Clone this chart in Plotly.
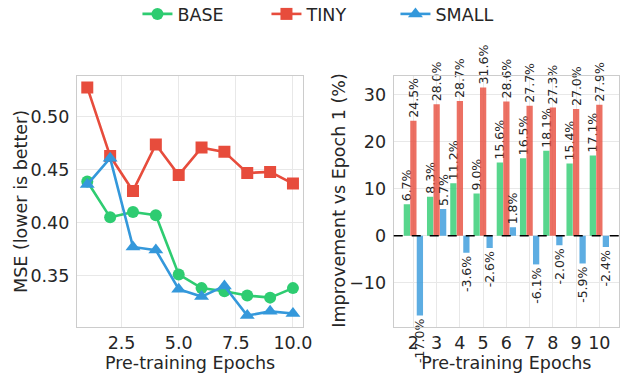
import plotly.graph_objects as go

# Pre-training epochs and validation MSE per model size
epochs = [1, 2, 3, 4, 5, 6, 7, 8, 9, 10]
mse_base = [0.439, 0.405, 0.410, 0.407, 0.351, 0.338, 0.335, 0.331, 0.329, 0.338]
mse_tiny = [0.528, 0.463, 0.430, 0.474, 0.445, 0.471, 0.467, 0.447, 0.448, 0.437]
mse_small = [0.436, 0.461, 0.377, 0.374, 0.337, 0.330, 0.340, 0.312, 0.316, 0.314]

# Relative improvement (%) over epoch 1
bar_epochs = [2, 3, 4, 5, 6, 7, 8, 9, 10]
imp_base = [6.7, 8.3, 11.2, 9.0, 15.6, 16.5, 18.1, 15.4, 17.1]
imp_tiny = [24.5, 28.0, 28.7, 31.6, 28.6, 27.7, 27.3, 27.0, 27.9]
imp_small = [-17.0, 5.7, -3.6, -2.6, 1.8, -6.1, -2.0, -5.9, -2.4]

names = ["BASE", "TINY", "SMALL"]
colors = ["#2ecc71", "#e74c3c", "#3498db"]
symbols = ["circle", "square", "triangle-up"]
text_color = "#262626"
font_family = "DejaVu Sans"
fs = 17.5

W, H = 628, 379
ML, MR, MT, MB = 77, 0, 76, 52
pw = W - ML - MR
ph = H - MT - MB

fig = go.Figure()

for name, vals, col, sym in zip(names, [mse_base, mse_tiny, mse_small], colors, symbols):
    fig.add_trace(go.Scatter(
        x=epochs, y=vals, name=name, mode="lines+markers",
        line=dict(color=col, width=2.6),
        marker=dict(color=col, symbol=sym, size=12 if sym != "triangle-up" else 13),
        xaxis="x", yaxis="y",
    ))

bar_width = 0.27
offsets = [-0.28, 0.0, 0.28]
for name, vals, col, off in zip(names, [imp_base, imp_tiny, imp_small], colors, offsets):
    fig.add_trace(go.Bar(
        x=[e + off for e in bar_epochs], y=vals, name=name, showlegend=False,
        width=bar_width, marker=dict(color=col, opacity=0.8, line=dict(width=0)),
        text=[f"{v:.1f}%" for v in vals], textposition="outside", textangle=-90,
        constraintext="none", cliponaxis=False,
        textfont=dict(size=12.5, color=text_color, family=font_family),
        xaxis="x2", yaxis="y2",
    ))

fig.add_shape(type="line", xref="x2 domain", yref="y2", x0=0, x1=1, y0=0, y1=0,
              line=dict(color="black", width=1.5, dash="dash"))

axis_common = dict(
    showline=True, mirror=True, linecolor="#cccccc", linewidth=1.3,
    showgrid=True, gridcolor="#e8e8e8", gridwidth=1, zeroline=False,
    ticks="outside", tickcolor="rgba(0,0,0,0)",
    tickfont=dict(size=fs, color=text_color, family=font_family),
)

# y-axis titles placed as rotated labels beside each panel
fig.add_annotation(text="MSE (lower is better)", xref="paper", yref="paper",
                   x=(20 - ML) / pw, y=(H - MB - 201) / ph, showarrow=False,
                   textangle=-90, font=dict(size=fs, color=text_color),
                   xanchor="center", yanchor="middle")
fig.add_annotation(text="Improvement vs Epoch 1 (%)", xref="paper", yref="paper",
                   x=(343 - ML) / pw, y=(H - MB - 201) / ph, showarrow=False,
                   textangle=-90, font=dict(size=fs, color=text_color),
                   xanchor="center", yanchor="middle")

fig.update_layout(
    width=W, height=H,
    margin=dict(l=ML, r=MR, t=MT, b=MB),
    paper_bgcolor="white", plot_bgcolor="white",
    font=dict(family=font_family, color=text_color, size=fs),
    barmode="overlay",
    xaxis=dict(domain=[0, 230 / pw], range=[0.55, 10.45],
               tickvals=[2.5, 5.0, 7.5, 10.0], ticktext=["2.5", "5.0", "7.5", "10.0"],
               ticklen=0,
               title=dict(text="Pre-training Epochs", font=dict(size=fs), standoff=0),
               anchor="y", **axis_common),
    yaxis=dict(range=[0.3012, 0.5388],
               tickvals=[0.35, 0.40, 0.45, 0.50], ticktext=["0.35", "0.40", "0.45", "0.50"],
               ticklen=3, anchor="x", **axis_common),
    xaxis2=dict(domain=[322 / pw, 1], range=[1.155, 10.845],
                tickvals=bar_epochs, ticktext=[str(e) for e in bar_epochs],
                ticklen=0,
                title=dict(text="Pre-training Epochs", font=dict(size=fs), standoff=0),
                anchor="y2", **axis_common),
    yaxis2=dict(range=[-19.43, 34.03],
                tickvals=[-10, 0, 10, 20, 30],
                ticklen=3, anchor="x2", **axis_common),
    legend=dict(orientation="h", xref="container", yref="container",
                x=0.527, y=0.963, xanchor="center", yanchor="middle",
                font=dict(size=fs, color=text_color), bgcolor="rgba(0,0,0,0)",
                entrywidth=84, itemsizing="trace"),
)

fig.write_html("out.html")
